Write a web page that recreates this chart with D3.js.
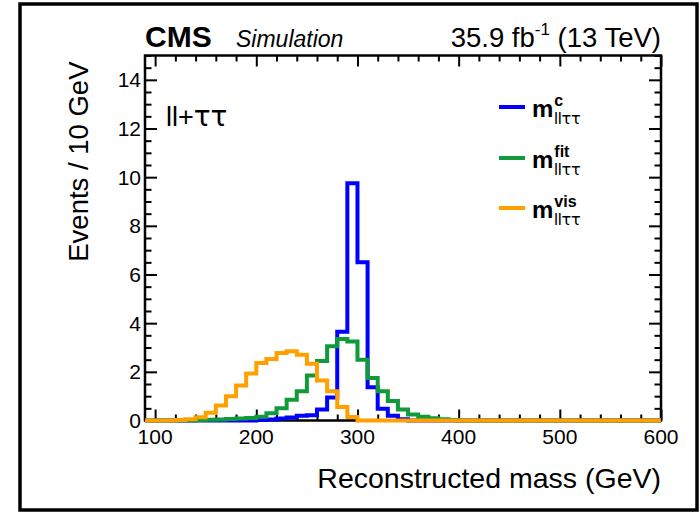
<!DOCTYPE html>
<html>
<head>
<meta charset="utf-8">
<script src="https://cdn.jsdelivr.net/npm/d3@7/dist/d3.min.js"></script>
<style>
  body { margin: 0; background: #fff; }
  text { font-family: "Liberation Sans", Arial, Helvetica, sans-serif; fill: #000; }
</style>
</head>
<body>
<svg id="chart" width="700" height="513"></svg>
<script>
// Lower edges of the 10 GeV bins (GeV)
const binLow = [90, 100, 110, 120, 130, 140, 150, 160, 170, 180,
                190, 200, 210, 220, 230, 240, 250, 260, 270, 280,
                290, 300, 310, 320, 330, 340, 350, 360, 370, 380,
                390, 400, 410, 420, 430, 440, 450, 460, 470, 480,
                490, 500, 510, 520, 530, 540, 550, 560, 570, 580, 590];
const binWidth = 10;

// Events per bin for the three mass reconstructions
const mC = [0, 0, 0, 0, 0, 0, 0, 0, 0, 0,
            0, 0.02, 0.04, 0.08, 0.12, 0.2, 0.22, 0.45, 0.95, 3.65,
            9.75, 6.5, 1.37, 0.48, 0.2, 0.05, 0, 0, 0, 0,
            0, 0, 0, 0, 0, 0, 0, 0, 0, 0,
            0, 0, 0, 0, 0, 0, 0, 0, 0, 0, 0];
const mFit = [0, 0, 0, 0, 0, 0.02, 0.03, 0.04, 0.06, 0.08,
              0.1, 0.15, 0.3, 0.5, 0.85, 1.2, 1.85, 2.45, 3.05, 3.35,
              3.25, 2.5, 1.75, 1.2, 0.8, 0.45, 0.25, 0.15, 0.09, 0.05,
              0.02, 0, 0, 0, 0, 0, 0, 0, 0, 0,
              0, 0, 0, 0, 0, 0, 0, 0, 0, 0, 0];
const mVis = [0, 0, 0, 0.02, 0.05, 0.13, 0.32, 0.62, 1.0, 1.44,
              1.93, 2.36, 2.53, 2.77, 2.85, 2.7, 2.33, 1.64, 1.2, 0.55,
              0.14, 0, 0, 0, 0, 0, 0, 0, 0, 0,
              0, 0, 0, 0, 0, 0, 0, 0, 0, 0,
              0, 0, 0, 0, 0, 0, 0, 0, 0, 0, 0];

const xTicks = [100, 200, 300, 400, 500, 600];
const yTicks = [0, 2, 4, 6, 8, 10, 12, 14];
const xDomain = [90, 600];
const yDomain = [0, 15];

const series = [
  { key: "c",   values: mC,   color: "#0000ff" },
  { key: "fit", values: mFit, color: "#109a3a" },
  { key: "vis", values: mVis, color: "#ffa000" }
];

const svg = d3.select("#chart");
const plot = { left: 145, right: 661, top: 55.5, bottom: 420.5 };

const x = d3.scaleLinear().domain(xDomain).range([plot.left, plot.right]);
const y = d3.scaleLinear().domain(yDomain).range([plot.bottom, plot.top]);

// Outer canvas border
svg.append("rect")
  .attr("x", 20).attr("y", 4).attr("width", 677).attr("height", 506)
  .attr("fill", "none").attr("stroke", "#000").attr("stroke-width", 3.5);

// Axes with major and minor ticks on all four sides
const xMinor = d3.range(100, 601, 20).filter(v => v % 100 !== 0);
const yMinor = d3.range(0, 15.01, 0.5).filter(v => v % 2 !== 0);

function tickGroup(axisFn, scale, pos, majors, minors, majorLen, minorLen) {
  [[majors, majorLen], [minors, minorLen]].forEach(([vals, len]) => {
    const g = svg.append("g")
      .attr("transform", pos)
      .call(axisFn(scale).tickValues(vals).tickSize(len).tickFormat(() => ""));
    g.select(".domain").remove();
    g.selectAll("line").attr("stroke", "#000").attr("stroke-width", 2);
  });
}

// bottom and top (ticks pointing into the frame)
tickGroup(d3.axisTop, x, `translate(0,${plot.bottom})`, xTicks, xMinor, 11, 6);
tickGroup(d3.axisBottom, x, `translate(0,${plot.top})`, xTicks, xMinor, 11, 6);
// left and right
tickGroup(d3.axisRight, y, `translate(${plot.left},0)`, yTicks, yMinor, 12, 6.5);
tickGroup(d3.axisLeft, y, `translate(${plot.right},0)`, yTicks, yMinor, 12, 6.5);

// Tick labels
svg.append("g").selectAll("text").data(xTicks).join("text")
  .attr("x", d => x(d)).attr("y", 444)
  .attr("text-anchor", "middle")
  .attr("font-size", 21)
  .text(d => d);
svg.append("g").selectAll("text").data(yTicks).join("text")
  .attr("x", 141).attr("y", d => y(d))
  .attr("dy", "0.36em")
  .attr("text-anchor", "end")
  .attr("font-size", 21)
  .text(d => d);

// Histograms as step lines
const step = d3.line()
  .x(d => x(d[0]))
  .y(d => y(d[1]))
  .curve(d3.curveStepAfter);

function histPoints(values) {
  const pts = binLow.map((lo, i) => [lo, values[i]]);
  pts.push([binLow[binLow.length - 1] + binWidth, values[values.length - 1]]);
  return pts;
}

// Frame
svg.append("rect")
  .attr("x", plot.left).attr("y", plot.top)
  .attr("width", plot.right - plot.left).attr("height", plot.bottom - plot.top)
  .attr("fill", "none").attr("stroke", "#000").attr("stroke-width", 2.5);

series.forEach(s => {
  svg.append("path")
    .attr("d", step(histPoints(s.values)))
    .attr("fill", "none")
    .attr("stroke", s.color)
    .attr("stroke-width", 4)
    .attr("stroke-linejoin", "miter");
});

// Axis titles
svg.append("text")
  .attr("x", plot.right).attr("y", 488)
  .attr("text-anchor", "end")
  .attr("font-size", 28.5)
  .text("Reconstructed mass (GeV)");

svg.append("text")
  .attr("transform", `translate(88,${plot.top + 6}) rotate(-90)`)
  .attr("text-anchor", "end")
  .attr("font-size", 27.5)
  .text("Events / 10 GeV");

// Header
svg.append("text")
  .attr("x", plot.left).attr("y", 47)
  .attr("font-size", 30).attr("font-weight", "bold")
  .text("CMS");
svg.append("text")
  .attr("x", 236).attr("y", 47)
  .attr("font-size", 23).attr("font-style", "italic")
  .text("Simulation");

const lumi = svg.append("text")
  .attr("x", plot.right).attr("y", 47)
  .attr("text-anchor", "end")
  .attr("font-size", 27.5);
lumi.append("tspan").text("35.9 fb");
lumi.append("tspan").attr("font-size", 17).attr("dy", -12).text("-1");
lumi.append("tspan").attr("dy", 12).text(" (13 TeV)");

// Channel label
const chan = svg.append("text")
  .attr("x", 166).attr("y", 126)
  .attr("font-size", 27);
chan.append("tspan").text("ll+");
chan.append("tspan").attr("font-family", "DejaVu Sans").attr("font-size", 28).text("ττ");

// Legend
const legendRows = [
  { s: series[0], ly: 107 },
  { s: series[1], ly: 158 },
  { s: series[2], ly: 208 }
];
legendRows.forEach(r => {
  svg.append("line")
    .attr("x1", 499).attr("x2", 525)
    .attr("y1", r.ly).attr("y2", r.ly)
    .attr("stroke", r.s.color).attr("stroke-width", 4);
  const base = r.ly + 10;
  const m = svg.append("text")
    .attr("x", 532).attr("y", base)
    .attr("font-size", 24).attr("font-weight", "bold")
    .text("m");
  const mw = m.node().getComputedTextLength();
  svg.append("text")
    .attr("x", 532 + mw + 1).attr("y", base - 11)
    .attr("font-size", 16).attr("font-weight", "bold")
    .text(r.s.key);
  const sub = svg.append("text")
    .attr("x", 532 + mw + 1).attr("y", base + 7)
    .attr("font-size", 16);
  sub.append("tspan").text("ll");
  sub.append("tspan").attr("font-family", "DejaVu Sans").text("ττ");
});
</script>
</body>
</html>
